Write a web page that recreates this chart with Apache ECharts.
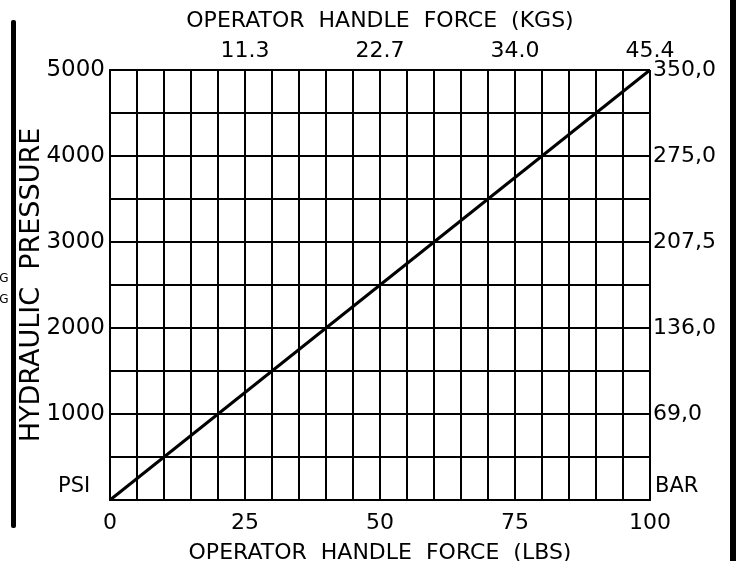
<!DOCTYPE html>
<html>
<head>
<meta charset="utf-8">
<script src="https://cdn.jsdelivr.net/npm/echarts@6/dist/echarts.min.js"></script>
<style>
  html, body { margin: 0; padding: 0; background: #fff; }
  #chart { width: 736px; height: 561px; }
</style>
</head>
<body>
<div id="chart"></div>
<script>
// handle force in lbs vs hydraulic pressure in psi (straight line)
const forceLbs = [0, 100]
const pressurePsi = [0, 5000]

// tick labels
const lbsTicks = [0, 25, 50, 75, 100]
const kgsLabels = { 25: '11.3', 50: '22.7', 75: '34.0', 100: '45.4' }
const psiTicks = [1000, 2000, 3000, 4000, 5000]
const barLabels = { 1000: '69,0', 2000: '136,0', 3000: '207,5', 4000: '275,0', 5000: '350,0' }

const FONT = 'DejaVu Sans'
const ink = '#000'

const myChart = echarts.init(document.getElementById('chart'))
myChart.setOption({
  backgroundColor: '#fff',
  animation: false,
  textStyle: { fontFamily: FONT, color: ink },
  grid: { left: 110, right: 86, top: 70, bottom: 61, outerBoundsMode: 'none', containLabel: false },
  xAxis: [
    {
      type: 'value',
      position: 'bottom',
      min: 0,
      max: 100,
      interval: 5,
      name: 'OPERATOR  HANDLE  FORCE  (LBS)',
      nameLocation: 'middle',
      nameGap: 42,
      nameTextStyle: { fontFamily: FONT, fontSize: 22, color: ink },
      axisLine: { show: true, lineStyle: { color: ink, width: 2 } },
      axisTick: { show: false },
      splitLine: { show: true, lineStyle: { color: ink, width: 2 } },
      axisLabel: {
        fontFamily: FONT,
        fontSize: 22,
        color: ink,
        margin: 12,
        formatter: v => (lbsTicks.includes(v) ? String(v) : '')
      }
    },
    {
      type: 'value',
      position: 'top',
      min: 0,
      max: 100,
      interval: 25,
      name: 'OPERATOR  HANDLE  FORCE  (KGS)',
      nameLocation: 'middle',
      nameGap: 38,
      nameTextStyle: { fontFamily: FONT, fontSize: 22, color: ink },
      axisLine: { show: true, lineStyle: { color: ink, width: 2 } },
      axisTick: { show: false },
      splitLine: { show: false },
      axisLabel: {
        fontFamily: FONT,
        fontSize: 22,
        color: ink,
        margin: 8,
        formatter: v => kgsLabels[v] || ''
      }
    }
  ],
  yAxis: [
    {
      type: 'value',
      position: 'left',
      min: 0,
      max: 5000,
      interval: 500,
      name: 'HYDRAULIC  PRESSURE',
      nameLocation: 'middle',
      nameRotate: 90,
      nameGap: 65,
      nameMoveOverlap: false,
      nameTextStyle: { fontFamily: FONT, fontSize: 27, color: ink },
      axisLine: { show: true, lineStyle: { color: ink, width: 2 } },
      axisTick: { show: false },
      splitLine: { show: true, lineStyle: { color: ink, width: 2 } },
      axisLabel: {
        fontFamily: FONT,
        fontSize: 23,
        color: ink,
        margin: 5,
        formatter: v => (psiTicks.includes(v) ? String(v) : '')
      }
    },
    {
      type: 'value',
      position: 'right',
      min: 0,
      max: 5000,
      interval: 500,
      axisLine: { show: true, lineStyle: { color: ink, width: 2 } },
      axisTick: { show: false },
      splitLine: { show: false },
      axisLabel: {
        fontFamily: FONT,
        fontSize: 22,
        color: ink,
        margin: 3,
        formatter: v => barLabels[v] || ''
      }
    }
  ],
  series: [
    {
      type: 'line',
      data: forceLbs.map((x, i) => [x, pressurePsi[i]]),
      showSymbol: false,
      lineStyle: { color: ink, width: 3 },
      silent: true
    }
  ],
  graphic: [
    { type: 'rect', shape: { x: 11, y: 20, width: 5, height: 508, r: 2 }, style: { fill: ink } },
    { type: 'rect', shape: { x: 730, y: 0, width: 6, height: 561 }, style: { fill: ink } },
    {
      type: 'text', left: 58, top: 476,
      style: { text: 'PSI', font: '21px "DejaVu Sans"', fill: ink }
    },
    {
      type: 'text', left: 655, top: 476,
      style: { text: 'BAR', font: '21px "DejaVu Sans"', fill: ink }
    },
    {
      type: 'text', x: 4, y: 279,
      style: { text: 'G', font: '12px "DejaVu Sans"', fill: ink, align: 'center', verticalAlign: 'middle' }
    },
    {
      type: 'text', x: 4, y: 300,
      style: { text: 'G', font: '12px "DejaVu Sans"', fill: ink, align: 'center', verticalAlign: 'middle' }
    }
  ]
})
</script>
</body>
</html>
